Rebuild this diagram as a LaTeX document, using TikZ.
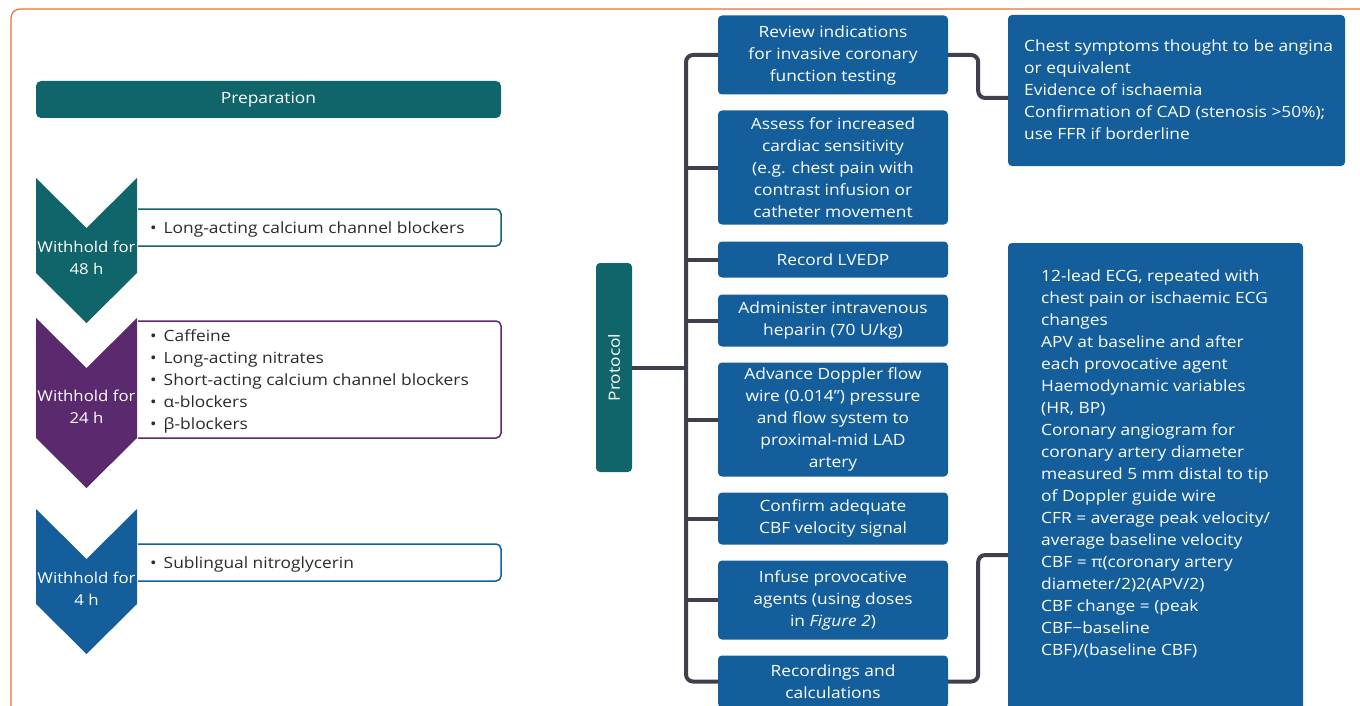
\documentclass[tikz,border=0pt]{standalone}
\usepackage{fontspec}
\setmainfont{Open Sans}[FakeStretch=1.12]
\definecolor{cteal}{HTML}{10656A}
\definecolor{cpurple}{HTML}{5B2A6E}
\definecolor{cblue}{HTML}{135E9B}
\definecolor{cline}{HTML}{3E414C}
\definecolor{corange}{HTML}{E8703A}
\definecolor{ctext}{HTML}{2B2B2B}
\tikzset{
  txt/.style={font=\fontsize{15.5}{22}\selectfont},
  bluebox/.style={txt, fill=cblue, rounded corners=4pt, text=white, align=center, inner sep=0pt, minimum width=230pt},
  rbox/.style={fill=cblue, rounded corners=4pt, inner sep=0pt},
  rtext/.style={txt, text=white, align=left, inner sep=0pt, anchor=west},
  listbox/.style={draw=#1, line width=1.5pt, fill=white, rounded corners=5pt},
  listtext/.style={txt, text=ctext, align=left, inner sep=0pt, anchor=west, yshift=-1.5pt},
  chevtext/.style={font=\fontsize{15}{22}\selectfont, text=white, align=center, inner sep=0pt},
  conn/.style={draw=cline, line width=4pt, rounded corners=7pt},
}
\begin{document}
\begin{tikzpicture}[x=1pt,y=-1pt]
\useasboundingbox (0,0) rectangle (1360,706);
\begin{scope}
\clip (0,0) rectangle (1360,706);
\draw[corange, line width=1.2pt, rounded corners=9pt] (11,9) rectangle (1400,760);

% Preparation
\node[txt, fill=cteal, text=white, rounded corners=5pt, minimum width=465pt, minimum height=37pt, inner sep=0pt] (prep) at (268.5,99.5) {Preparation};

% list boxes (behind chevrons)
\path[listbox=cteal] (138,209) -- (501,209) -- (501,246) -- (138,246);
\path[listbox=cpurple] (138,321) -- (501,321) -- (501,438) -- (138,438);
\path[listbox=cblue] (138,544) -- (501,544) -- (501,581) -- (138,581);

% chevrons
\fill[cteal] (36,178) -- (86.5,228) -- (137,178) -- (137,273) -- (86.5,323) -- (36,273) -- cycle;
\fill[cpurple] (36,318) -- (86.5,368) -- (137,318) -- (137,438) -- (86.5,488) -- (36,438) -- cycle;
\fill[cblue] (36,509) -- (86.5,559) -- (137,509) -- (137,604) -- (86.5,654) -- (36,604) -- cycle;
\node[chevtext] (w48) at (86.5,257.5) {Withhold for\\48 h};
\node[chevtext] (w24) at (86.5,406.5) {Withhold for\\24 h};
\node[chevtext] (w4) at (86.5,588.5) {Withhold for\\4 h};

\node[listtext] (l48) at (150,227.5) {•\hspace{7pt}Long-acting calcium channel blockers};
\node[listtext] (l24) at (150,379.5) {•\hspace{7pt}Caffeine\\•\hspace{7pt}Long-acting nitrates\\•\hspace{7pt}Short-acting calcium channel blockers\\•\hspace{7pt}α-blockers\\•\hspace{7pt}β-blockers};
\node[listtext] (l4) at (150,562.5) {•\hspace{7pt}Sublingual nitroglycerin};

% Protocol
\node[txt, fill=cteal, text=white, rounded corners=4pt, rotate=90, minimum width=209pt, minimum height=36pt, inner sep=0pt] (prot) at (614,367.5) {Protocol};

\node[bluebox, minimum height=79pt] (rev) at (833,55) {Review indications\\for invasive coronary\\function testing};
\node[bluebox, minimum height=114pt] (ass) at (833,167.5) {Assess for increased\\cardiac sensitivity\\(e.g. chest pain with\\contrast infusion or\\catheter movement};
\node[bluebox, minimum height=36pt] (lve) at (833,259.5) {Record LVEDP};
\node[bluebox, minimum height=52pt] (hep) at (833,320.5) {Administer intravenous\\heparin (70 U/kg)};
\node[bluebox, minimum height=114pt] (adv) at (833,419.5) {Advance Doppler flow\\wire (0.014") pressure\\and flow system to\\proximal-mid LAD\\artery};
\node[bluebox, minimum height=52pt] (conf) at (833,518.5) {Confirm adequate\\CBF velocity signal};
\node[bluebox, minimum height=79pt] (inf) at (833,600) {Infuse provocative\\agents (using doses\\in \textit{Figure 2})};
\node[bluebox, minimum height=52pt] (recs) at (833,681.5) {Recordings and\\calculations};

% right boxes
\node[rbox, minimum width=337pt, minimum height=151pt] (ind) at (1176.5,90.5) {};
\node[rtext] (indt) at (1024,90) {Chest symptoms thought to be angina\\or equivalent\\Evidence of ischaemia\\Confirmation of CAD (stenosis >50\%);\\use FFR if borderline};
\node[rbox, minimum width=295pt, minimum height=470pt] (calc) at (1155.5,478) {};
\node[rtext] (calct) at (1041,463.5) {12-lead ECG, repeated with\\chest pain or ischaemic ECG\\changes\\APV at baseline and after\\each provocative agent\\Haemodynamic variables\\(HR, BP)\\Coronary angiogram for\\coronary artery diameter\\measured 5 mm distal to tip\\of Doppler guide wire\\CFR = average peak velocity/\\average baseline velocity\\CBF = π(coronary artery\\diameter/2)2(APV/2)\\CBF change = (peak\\CBF−baseline\\CBF)/(baseline CBF)};

% connectors
\coordinate (tt) at (686,55);
\coordinate (c1) at (1008,98);
\coordinate (c2) at (1008,555);
\draw[conn] (rev.west) -- (tt) -- (tt |- recs.west) -- (recs.west);
\foreach \n in {ass,lve,hep,adv,conf,inf} {\draw[conn] (\n.west) -- (\n.west -| tt);}
\draw[conn] (prot.south) -- (prot.south -| tt);
\draw[conn] (rev.east) -- ++(30,0) |- (c1);
\draw[conn] (recs.east) -- ++(30,0) |- (c2);
\end{scope}
\end{tikzpicture}
\end{document}
